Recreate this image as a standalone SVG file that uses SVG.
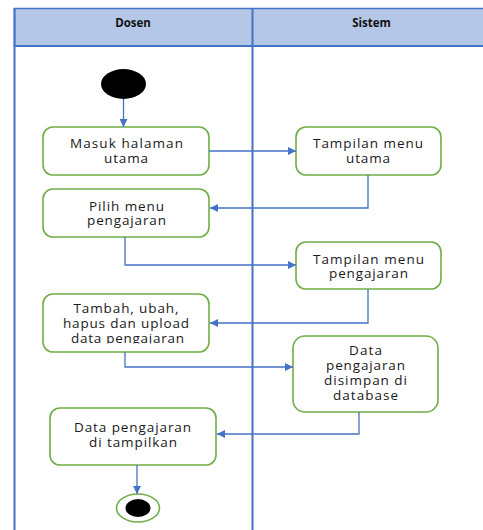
<svg xmlns="http://www.w3.org/2000/svg" width="483" height="530" viewBox="0 0 483 530">
<style>
.lane{stroke:#4472C4;stroke-width:2;fill:none}
.hdr{fill:#B4C7E7;stroke:#4472C4;stroke-width:1.5}
.hdrt{font-family:"Open Sans","Liberation Sans",sans-serif;font-size:11.5px;font-weight:bold;fill:#111;text-anchor:middle}
.node{fill:#fff;stroke:#70AD47;stroke-width:1.6}
.t{font-family:"Open Sans","Liberation Sans",sans-serif;font-size:13.5px;fill:#1a1a1a;text-anchor:middle}
.c{stroke:#4472C4;stroke-width:1.3;fill:none;marker-end:url(#ah)}
</style>
<defs>
<marker id="ah" viewBox="0 0 10 10" refX="10" refY="5" markerWidth="8" markerHeight="8" markerUnits="userSpaceOnUse" orient="auto">
<path d="M0,0 L10,5 L0,10 z" fill="#4472C4"/>
</marker>
<clipPath id="clip5"><rect x="40" y="290" width="175" height="53.5"/></clipPath>
</defs>
<rect width="483" height="530" fill="#fff"/>
<g id="lanes">
<rect class="hdr" x="14.5" y="8.5" width="480" height="37.5"/>
<line class="lane" x1="14" y1="46" x2="490" y2="46" stroke-width="2.5"/>
<line class="lane" x1="14.5" y1="8" x2="14.5" y2="530"/>
<line class="lane" x1="252.5" y1="8" x2="252.5" y2="530"/>
<text class="hdrt" x="133" y="27">Dosen</text>
<text class="hdrt" x="371.5" y="27">Sistem</text>
</g>
<g id="start"><ellipse cx="123.5" cy="84" rx="22.5" ry="15" fill="#000"/></g>
<g id="n1"><rect class="node" x="43" y="127" width="166" height="48" rx="10"/>
<text class="t" x="126.5" y="148" textLength="113" lengthAdjust="spacing">Masuk halaman</text>
<text class="t" x="126" y="163" textLength="44" lengthAdjust="spacing">utama</text></g>
<g id="n2"><rect class="node" x="296" y="127" width="145" height="48" rx="10"/>
<text class="t" x="368" y="148" textLength="110" lengthAdjust="spacing">Tampilan menu</text>
<text class="t" x="368" y="163" textLength="44" lengthAdjust="spacing">utama</text></g>
<g id="n3"><rect class="node" x="43" y="189" width="166" height="48" rx="10"/>
<text class="t" x="126.5" y="211" textLength="75" lengthAdjust="spacing">Pilih menu</text>
<text class="t" x="126.5" y="225" textLength="79" lengthAdjust="spacing">pengajaran</text></g>
<g id="n4"><rect class="node" x="296" y="242" width="145" height="47" rx="10"/>
<text class="t" x="368.5" y="264" textLength="111" lengthAdjust="spacing">Tampilan menu</text>
<text class="t" x="368.5" y="278" textLength="79" lengthAdjust="spacing">pengajaran</text></g>
<g id="n5"><rect class="node" x="43" y="294" width="166" height="58" rx="10"/>
<g clip-path="url(#clip5)">
<text class="t" x="126" y="313" textLength="105" lengthAdjust="spacing">Tambah, ubah,</text>
<text class="t" x="126" y="328" textLength="126" lengthAdjust="spacing">hapus dan upload</text>
<text class="t" x="127.5" y="342.5" textLength="113" lengthAdjust="spacing">data pengajaran</text>
</g></g>
<g id="n6"><rect class="node" x="293" y="336" width="145" height="76" rx="12"/>
<text class="t" x="365.5" y="355" textLength="33" lengthAdjust="spacing">Data</text>
<text class="t" x="365.5" y="370" textLength="79" lengthAdjust="spacing">pengajaran</text>
<text class="t" x="365.5" y="385" textLength="83" lengthAdjust="spacing">disimpan di</text>
<text class="t" x="365.5" y="400" textLength="65" lengthAdjust="spacing">database</text></g>
<g id="n7"><rect class="node" x="50" y="408" width="166" height="57" rx="10"/>
<text class="t" x="132.5" y="432" textLength="117" lengthAdjust="spacing">Data pengajaran</text>
<text class="t" x="133" y="447" textLength="88" lengthAdjust="spacing">di tampilkan</text></g>
<g id="end"><ellipse cx="138" cy="508" rx="21.5" ry="14" fill="#fff" stroke="#70AD47" stroke-width="1.6"/>
<ellipse cx="138" cy="508" rx="12.5" ry="9" fill="#000"/></g>
<g id="connectors">
<path class="c" d="M123.5,99 V127"/>
<path class="c" d="M209,151 H296"/>
<path class="c" d="M368,175 V208 H210"/>
<path class="c" d="M125,237 V265 H296"/>
<path class="c" d="M368,289 V323 H210"/>
<path class="c" d="M125,352 V367 H293"/>
<path class="c" d="M359,412 V434 H217"/>
<path class="c" d="M137,465 V494"/>
</g>
</svg>
